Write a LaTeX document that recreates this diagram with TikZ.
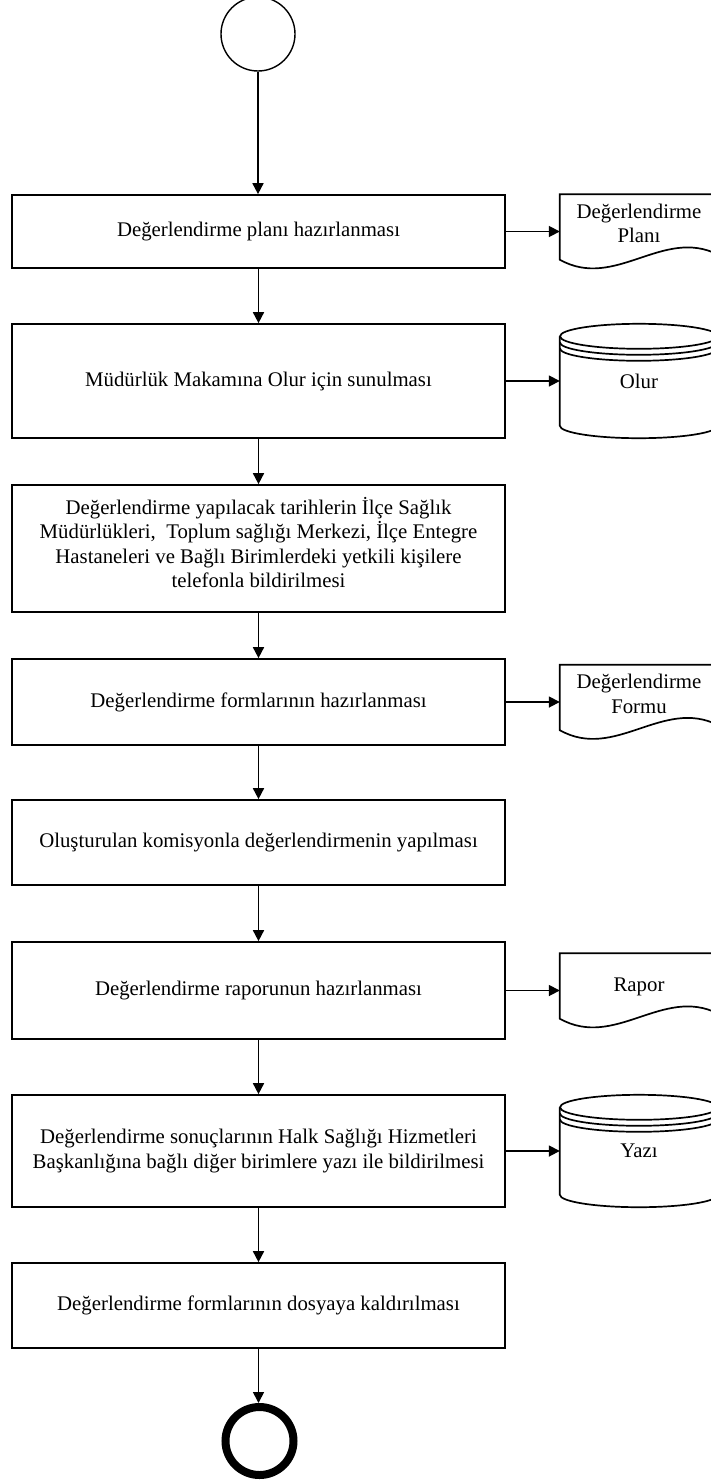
\documentclass[tikz,border=0pt]{standalone}
\usepackage{fontspec}
\setmainfont{Liberation Serif}
\usetikzlibrary{arrows.meta,calc}

\tikzset{
  line/.style={line width=1.7pt},
  flow/.style={line width=1.7pt, -{Triangle[length=11pt,width=11pt]}},
  txt/.style={font=\fontsize{20.8}{24.5}\selectfont, align=center, inner sep=0pt},
  procbox/.style={draw, line width=1.7pt, minimum width=493pt, inner sep=0pt},
  footprint/.style={minimum width=158pt, inner sep=0pt},
}

% document symbol with a wavy lower edge, drawn around a footprint node
\newcommand{\docoutline}[1]{%
  \draw[line] ($(#1.south west)+(0,9)$) -- (#1.north west) -- (#1.north east)
    -- ($(#1.south east)+(0,14)$)
    .. controls ($(#1.south east)+(-55.3,42)$) and ($(#1.south west)+(55.3,-22)$)
    .. ($(#1.south west)+(0,9)$) -- cycle;}

% database symbol: cylinder with two extra rims under the lid
\newcommand{\dboutline}[1]{%
  \draw[line] ($(#1.north west)+(0,-12.5)$) -- ($(#1.south west)+(0,12.5)$)
    arc[start angle=180, end angle=360, x radius=79, y radius=12.5]
    -- ($(#1.north east)+(0,-12.5)$);
  \draw[line] ($(#1.north)+(0,-12.5)$) ellipse[x radius=79, y radius=12.5];
  \draw[line] ($(#1.north west)+(0,-18.5)$)
    arc[start angle=180, end angle=360, x radius=79, y radius=12.5];
  \draw[line] ($(#1.north west)+(0,-24.5)$)
    arc[start angle=180, end angle=360, x radius=79, y radius=12.5];}

\begin{document}
\begin{tikzpicture}[x=1pt, y=1pt]
\clip (0,0) rectangle (711,-1483);

% start and end events
\node[circle, draw, line width=1.4pt, minimum size=74pt, inner sep=0pt] (start) at (258,-34) {};
\node[circle, draw, line width=8pt, minimum size=68pt, inner sep=0pt] (stop) at (259.5,-1441) {};

% process steps (frames)
\node[procbox, minimum height=73pt]  (b1) at (258.5,-231.5) {};
\node[procbox, minimum height=114pt] (b2) at (258.5,-381) {};
\node[procbox, minimum height=127pt] (b3) at (258.5,-548.5) {};
\node[procbox, minimum height=86pt]  (b4) at (258.5,-702) {};
\node[procbox, minimum height=85pt]  (b5) at (258.5,-842.5) {};
\node[procbox, minimum height=97pt]  (b6) at (258.5,-990.5) {};
\node[procbox, minimum height=112pt] (b7) at (258.5,-1151) {};
\node[procbox, minimum height=85pt]  (b8) at (258.5,-1305.5) {};

% process step labels
\node[txt] (b1t) at (b1.center) {Değerlendirme planı hazırlanması};
\node[txt] (b2t) at (b2.center) {Müdürlük Makamına Olur için sunulması};
\node[txt] (b3t) at ($(b3.center)+(0,6)$) {Değerlendirme yapılacak tarihlerin İlçe Sağlık\\Müdürlükleri,~ Toplum sağlığı Merkezi, İlçe Entegre\\Hastaneleri ve Bağlı Birimlerdeki yetkili kişilere\\telefonla bildirilmesi};
\node[txt] (b4t) at (b4.center) {Değerlendirme formlarının hazırlanması};
\node[txt] (b5t) at (b5.center) {Oluşturulan komisyonla değerlendirmenin yapılması};
\node[txt] (b6t) at (b6.center) {Değerlendirme raporunun hazırlanması};
\node[txt] (b7t) at (b7.center) {Değerlendirme sonuçlarının Halk Sağlığı Hizmetleri\\Başkanlığına bağlı diğer birimlere yazı ile bildirilmesi};
\node[txt] (b8t) at (b8.center) {Değerlendirme formlarının dosyaya kaldırılması};

% outputs: documents
\node[footprint, minimum height=74pt] (d1) at (639,-231.5) {};
\docoutline{d1}
\node[txt] (d1t) at ($(d1.center)+(0,8)$) {Değerlendirme\\Planı};

\node[footprint, minimum height=74pt] (d4) at (639,-702) {};
\docoutline{d4}
\node[txt] (d4t) at ($(d4.center)+(0,8)$) {Değerlendirme\\Formu};

\node[footprint, minimum height=74pt] (d6) at (639,-990.5) {};
\docoutline{d6}
\node[txt] (d6t) at ($(d6.center)+(0,4)$) {Rapor};

% outputs: records
\node[footprint, minimum height=114pt] (c2) at (639,-381) {};
\dboutline{c2}
\node[txt] (c2t) at (c2.center) {Olur};

\node[footprint, minimum height=112pt] (c7) at (639,-1151) {};
\dboutline{c7}
\node[txt] (c7t) at (c7.center) {Yazı};

% main flow
\draw[flow] (start.south) -- (start.south |- b1.north);
\draw[flow] (b1.south) -- (b2.north);
\draw[flow] (b2.south) -- (b3.north);
\draw[flow] (b3.south) -- (b4.north);
\draw[flow] (b4.south) -- (b5.north);
\draw[flow] (b5.south) -- (b6.north);
\draw[flow] (b6.south) -- (b7.north);
\draw[flow] (b7.south) -- (b8.north);
\draw[flow] (b8.south) -- (b8.south |- stop.north);

% side outputs
\draw[flow] (b1.east) -- (b1.east -| d1.west);
\draw[flow] (b2.east) -- (b2.east -| c2.west);
\draw[flow] (b4.east) -- (b4.east -| d4.west);
\draw[flow] (b6.east) -- (b6.east -| d6.west);
\draw[flow] (b7.east) -- (b7.east -| c7.west);
\end{tikzpicture}
\end{document}
